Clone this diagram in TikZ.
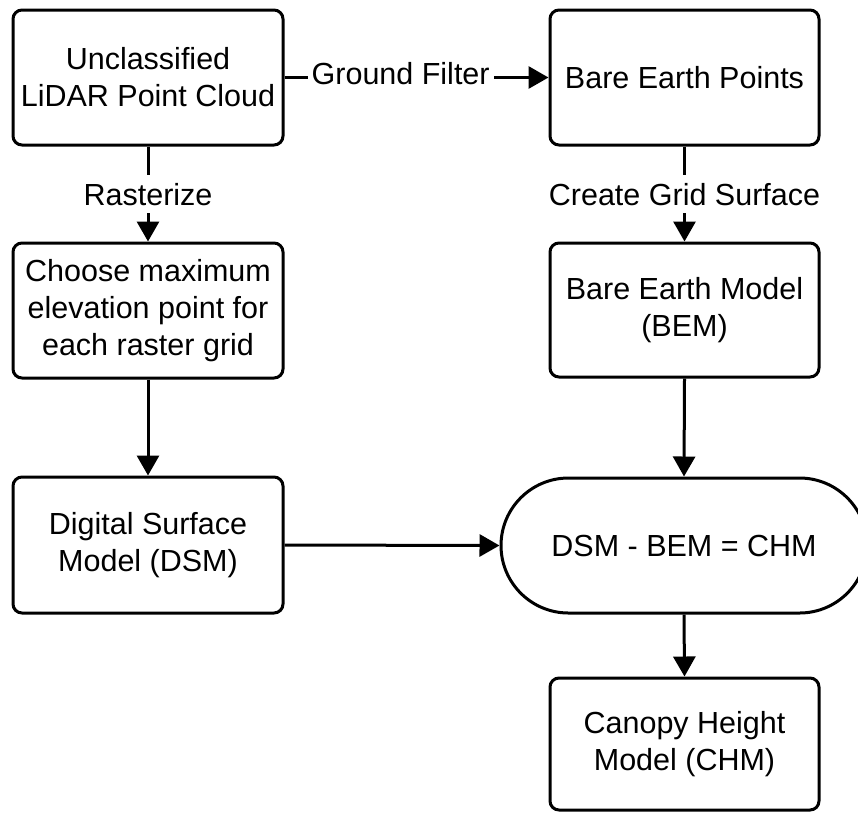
\documentclass[tikz,border=0pt]{standalone}
\usepackage{fontspec}
\setmainfont{Liberation Sans}
\usetikzlibrary{arrows.meta,shapes.misc}
\begin{document}
\begin{tikzpicture}[x=1pt,y=-1pt,
  every node/.style={font=\fontsize{30.5}{37}\selectfont},
  procbox/.style={draw=black, line width=3pt, rounded corners=9pt, fill=white,
    align=center, inner sep=0pt},
  termbox/.style={draw=black, line width=3pt, rounded rectangle, fill=white,
    align=center, inner sep=0pt, minimum width=366pt, minimum height=135pt},
  conn/.style={line width=3pt, -{Triangle[length=20pt,width=22pt]}},
  edgelabel/.style={fill=white, inner xsep=4pt, inner ysep=8pt, text height=22pt, text depth=0pt}
]
\useasboundingbox (0,0) rectangle (858,812);
\node[procbox, minimum width=270pt, minimum height=135pt] (lidar) at (148,77.5) {Unclassified\\LiDAR Point Cloud};
\node[procbox, minimum width=269pt, minimum height=135pt] (bep) at (684.5,77.5) {Bare Earth Points};
\node[procbox, minimum width=270pt, minimum height=135pt] (choose) at (148,310.5) {Choose maximum\\elevation point for\\each raster grid};
\node[procbox, minimum width=269pt, minimum height=134pt] (bem) at (684.5,310) {Bare Earth Model\\(BEM)};
\node[procbox, minimum width=270pt, minimum height=136pt] (dsm) at (148,545) {Digital Surface\\Model (DSM)};
\node[termbox] (calc) at (684,545.5) {DSM - BEM = CHM};
\node[procbox, minimum width=269pt, minimum height=132pt] (chm) at (684.5,744) {Canopy Height\\Model (CHM)};

\draw[conn] (lidar.east) -- node[edgelabel, pos=0.44, yshift=4.5pt] {Ground Filter} (bep.west);
\draw[conn] (lidar.south) -- node[edgelabel] {Rasterize} (choose.north);
\draw[conn] (bep.south) -- node[edgelabel] {Create Grid Surface} (bem.north);
\draw[conn] (choose.south) -- (dsm.north);
\draw[conn] (bem.south) -- (calc.north);
\draw[conn] (dsm.east) -- (calc.west);
\draw[conn] (calc.south) -- (chm.north);
\end{tikzpicture}
\end{document}
